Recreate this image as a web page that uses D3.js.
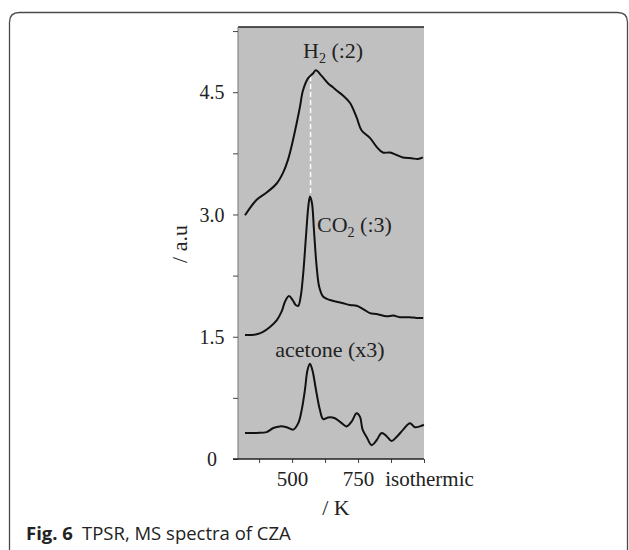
<!DOCTYPE html>
<html><head><meta charset="utf-8">
<script src="https://cdn.jsdelivr.net/npm/d3@7"></script>
<style>
html,body{margin:0;padding:0;background:#fff;}
svg{display:block;}
.serif{font-family:"Liberation Serif","Times New Roman",serif;}
</style></head>
<body>
<svg id="chart" width="629" height="550"></svg>
<script>
// ---------- data (temperature K, signal a.u.) ----------
const h2T = [321.5,365.8,403.7,441.6,465.5,484.4,503.3,517.3,529.8,541.2,560.2,579.1,590.5,612,635.9,654.8,668.9,692.7,719.2,744.6,763.6,795,820.4,844.2,870.8,896.1,920,953,976.8,995.8];
const h2V = [2.99,3.18,3.27,3.38,3.51,3.67,3.91,4.12,4.32,4.52,4.67,4.73,4.77,4.70,4.61,4.56,4.52,4.46,4.37,4.19,4.03,3.94,3.83,3.76,3.76,3.73,3.70,3.69,3.68,3.70];

const co2T = [321.5,365.8,389.7,416.2,441.6,460.5,473,488.2,502.2,513.6,523.4,532.5,542.3,552.6,561.3,567.7,575.3,582.9,593.1,603,618.1,643.5,668.9,693.9,719.2,744.6,769.6,795,820.4,858.3,883.3,908.6,946.5,971.9,996.9];
const co2V = [1.52,1.53,1.56,1.62,1.70,1.81,1.93,2.00,1.95,1.89,1.88,1.99,2.28,2.73,3.09,3.22,3.14,2.81,2.36,2.11,1.99,1.95,1.93,1.91,1.89,1.88,1.84,1.79,1.78,1.75,1.76,1.74,1.74,1.73,1.73];

const acT = [321.5,365.8,403.7,428.7,454.1,479.5,504.5,523.4,536.3,548.8,558.3,567.7,577.1,590.5,605.6,618.1,637.1,662.4,687.8,706.7,725.7,744.6,757.1,767.3,782.5,801.4,820.4,839.4,858.3,877.2,896.1,921.1,946.5,965.5,984.5,999.6];
const acV = [0.32,0.32,0.33,0.38,0.40,0.39,0.36,0.44,0.60,0.85,1.09,1.17,1.09,0.85,0.60,0.49,0.51,0.50,0.44,0.40,0.46,0.56,0.52,0.36,0.27,0.17,0.23,0.32,0.28,0.22,0.27,0.36,0.44,0.39,0.40,0.42];

const seriesNames = ["H2 (:2)", "CO2 (:3)", "acetone (x3)"];
const yTicks = [0,0.75,1.5,2.25,3.0,3.75,4.5,5.25];
const yMajor = [0,1.5,3.0,4.5];
const xTicks = [375,500,625,750,875,1000];
const xTickLabels = {500:"500", 750:"750", 1000:"isothermic"};
const peakT = 570, peakLow = 3.22, peakHigh = 4.70;

// ---------- layout ----------
const svg = d3.select("#chart");
const L = 238, R = 424, T = 27, B = 459;
const x = d3.scaleLinear().domain([295,1000]).range([L,R]);
const y = d3.scaleLinear().domain([0,5.30]).range([B,T]);

// card border
svg.append("path")
  .attr("d","M9.5,560 L9.5,22 Q9.5,12.5 19.5,12.5 L617.5,12.5 Q627.5,12.5 627.5,22 L627.5,560")
  .attr("fill","none").attr("stroke","#4a4a4a").attr("stroke-width",1.3);

// plot background
svg.append("rect").attr("x",L).attr("y",T).attr("width",R-L).attr("height",B-T).attr("fill","#c0c0c0");
svg.append("line").attr("x1",L).attr("x2",R).attr("y1",T).attr("y2",T).attr("stroke","#222").attr("stroke-width",1.5);
svg.append("line").attr("x1",L).attr("x2",L).attr("y1",T).attr("y2",B).attr("stroke","#777").attr("stroke-width",1);

// y axis
const yAxis = svg.append("g").attr("transform",`translate(${L},0)`)
  .call(d3.axisLeft(y).tickValues(yTicks).tickSize(5).tickSizeOuter(0)
    .tickFormat(d => yMajor.includes(d) ? (d===0 ? "0" : d.toFixed(1)) : ""));
yAxis.select(".domain").remove();
yAxis.selectAll(".tick line").attr("stroke","#444");
yAxis.selectAll(".tick text").attr("class","serif").attr("font-size",20).attr("fill","#222")
  .attr("text-anchor","middle").attr("x",-26).attr("dy","0.33em");

// x axis
const xAxis = svg.append("g").attr("transform",`translate(0,${B})`)
  .call(d3.axisBottom(x).tickValues(xTicks).tickSize(4).tickSizeOuter(0)
    .tickFormat(d => xTickLabels[d] || ""));
xAxis.select(".domain").remove();
xAxis.selectAll(".tick line").attr("stroke","#444");
xAxis.selectAll(".tick text").attr("class","serif").attr("font-size",21).attr("fill","#222").attr("y",12)
  .attr("dx", d => d===1000 ? 5 : 0);
svg.append("line").attr("x1",L-5).attr("x2",R).attr("y1",B).attr("y2",B).attr("stroke","#222").attr("stroke-width",1.5);

// dashed guide
svg.append("line").attr("x1",x(peakT)).attr("x2",x(peakT)).attr("y1",y(peakHigh)).attr("y2",y(peakLow))
  .attr("stroke","#fff").attr("stroke-width",1.5).attr("stroke-dasharray","5,3");

// curves
const line = d3.line().x(d=>x(d[0])).y(d=>y(d[1])).curve(d3.curveCatmullRom.alpha(0.5));
[[h2T,h2V],[co2T,co2V],[acT,acV]].forEach(([t,v]) => {
  svg.append("path").datum(t.map((d,i)=>[d,v[i]]))
    .attr("d",line).attr("fill","none").attr("stroke","#111").attr("stroke-width",2).attr("stroke-linejoin","round");
});

// series labels
const lab = svg.append("g").attr("class","serif").attr("font-size",22).attr("fill","#222");
const h2 = lab.append("text").attr("x",303).attr("y",58);
h2.append("tspan").text("H");
h2.append("tspan").text("2").attr("font-size",14).attr("dy",5);
h2.append("tspan").text(" (:2)").attr("dy",-5);
const co = lab.append("text").attr("x",317).attr("y",232);
co.append("tspan").text("CO");
co.append("tspan").text("2").attr("font-size",14).attr("dy",5);
co.append("tspan").text(" (:3)").attr("dy",-5);
lab.append("text").attr("x",330).attr("y",357).attr("text-anchor","middle").text(seriesNames[2]);

// axis titles
svg.append("text").attr("class","serif").attr("font-size",22).attr("fill","#222")
  .attr("transform","translate(187,244) rotate(-90)").attr("text-anchor","middle").text("/ a.u");
svg.append("text").attr("class","serif").attr("font-size",22).attr("fill","#222")
  .attr("x",336).attr("y",515).attr("text-anchor","middle").text("/ K");

// caption
const cap = svg.append("text").attr("x",26).attr("y",540).attr("font-family","'Open Sans','Noto Sans',sans-serif").attr("font-size",18.5).attr("fill","#222");
cap.append("tspan").attr("font-weight","bold").text("Fig. 6");
cap.append("tspan").attr("x",82).text("TPSR, MS spectra of CZA");
</script>
</body></html>
